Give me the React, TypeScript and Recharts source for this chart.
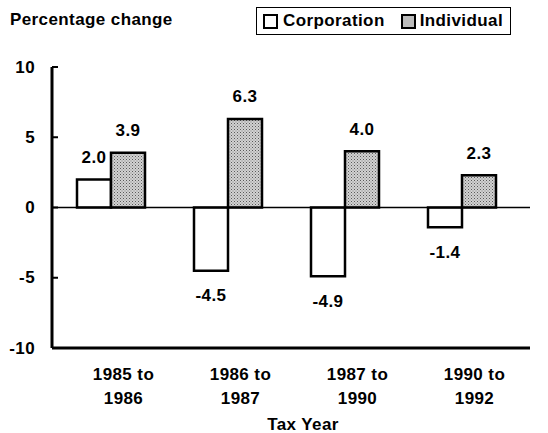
import React from "react";
import {
  BarChart,
  Bar,
  XAxis,
  YAxis,
  ReferenceLine,
  LabelList,
} from "recharts";

const categories = ["1985 to\n1986", "1986 to\n1987", "1987 to\n1990", "1990 to\n1992"];
const corporation = [2.0, -4.5, -4.9, -1.4];
const individual = [3.9, 6.3, 4.0, 2.3];
const yTicks = [-10, -5, 0, 5, 10];

const data = categories.map((category, i) => ({
  category,
  corporation: corporation[i],
  individual: individual[i],
}));

const font = "'Liberation Sans', Arial, Helvetica, sans-serif";
const textStyle = {
  fontFamily: font,
  fontWeight: 700,
  fontSize: 17,
  letterSpacing: 0.4,
  fill: "#000",
};

function ValueLabel(props: any) {
  const { x, y, width, height, value } = props;
  const v = Number(value);
  const top = Math.min(Number(y), Number(y) + Number(height));
  const bottom = Math.max(Number(y), Number(y) + Number(height));
  const cy = v >= 0 ? top - 22 : bottom + 25;
  return (
    <text
      x={Number(x) + Number(width) / 2}
      y={cy}
      textAnchor="middle"
      dominantBaseline="central"
      style={textStyle}
    >
      {v.toFixed(1)}
    </text>
  );
}

function YTick(props: any) {
  const { x, y, payload } = props;
  return (
    <g>
      <text x={x} y={y} textAnchor="end" dominantBaseline="central" style={textStyle}>
        {payload.value}
      </text>
      <line x1={x + 17} x2={x + 23} y1={y} y2={y} stroke="#000" strokeWidth={2} />
    </g>
  );
}

function XTick(props: any) {
  const { x, y, payload } = props;
  const lines = String(payload.value).split("\n");
  return (
    <g>
      {lines.map((l, i) => (
        <text
          key={i}
          x={x + 13}
          y={y + 26 + i * 24}
          textAnchor="middle"
          dominantBaseline="central"
          style={textStyle}
        >
          {l}
        </text>
      ))}
    </g>
  );
}

const htmlText: React.CSSProperties = {
  fontFamily: font,
  fontWeight: 700,
  fontSize: 17,
  letterSpacing: 0.4,
  color: "#000",
  lineHeight: "20px",
  position: "absolute",
  whiteSpace: "nowrap",
};

export default function App() {
  return (
    <div
      style={{
        position: "absolute",
        left: 0,
        top: 0,
        width: 548,
        height: 433,
        background: "#fff",
      }}
    >
      <BarChart
        width={548}
        height={433}
        data={data}
        margin={{ top: 67, right: 18, bottom: 55, left: 0 }}
        barGap={0}
        barSize={34}
      >
        <defs>
          <pattern id="stipple" width="3" height="3" patternUnits="userSpaceOnUse">
            <rect width="3" height="3" fill="#d2d2d2" />
            <rect x="0" y="0" width="1" height="1" fill="#5a5a5a" />
            <rect x="1.5" y="1.5" width="1" height="1" fill="#808080" />
          </pattern>
        </defs>
        <XAxis
          dataKey="category"
          height={30}
          axisLine={{ stroke: "#000", strokeWidth: 3 }}
          tickLine={false}
          tickSize={0}
          tickMargin={0}
          tick={<XTick />}
          padding={{ left: 0, right: 10 }}
          interval={0}
        />
        <YAxis
          width={52}
          domain={[-10, 10]}
          ticks={yTicks}
          axisLine={{ stroke: "#000", strokeWidth: 3 }}
          tickLine={false}
          tickSize={0}
          tickMargin={17}
          tick={<YTick />}
          interval={0}
        />
        <ReferenceLine y={0} stroke="#000" strokeWidth={1.5} />
        <Bar
          dataKey="corporation"
          fill="#fff"
          stroke="#000"
          strokeWidth={2.5}
          isAnimationActive={false}
        >
          <LabelList dataKey="corporation" content={<ValueLabel />} />
        </Bar>
        <Bar
          dataKey="individual"
          fill="url(#stipple)"
          stroke="#000"
          strokeWidth={2.5}
          isAnimationActive={false}
        >
          <LabelList dataKey="individual" content={<ValueLabel />} />
        </Bar>
      </BarChart>

      <div style={{ ...htmlText, left: 10, top: 10 }}>Percentage change</div>

      <div
        style={{
          position: "absolute",
          left: 256,
          top: 7,
          width: 253,
          height: 26,
          border: "1.5px solid #000",
          display: "flex",
          alignItems: "center",
        }}
      >
        <span
          style={{
            width: 11,
            height: 11,
            border: "2px solid #000",
            background: "#fff",
            marginLeft: 6,
            marginRight: 5,
          }}
        />
        <span style={{ ...htmlText, position: "static" }}>Corporation</span>
        <span
          style={{
            width: 11,
            height: 11,
            border: "2px solid #000",
            background: "#bdbdbd",
            marginLeft: 16,
            marginRight: 4,
          }}
        />
        <span style={{ ...htmlText, position: "static" }}>Individual</span>
      </div>

      <div style={{ ...htmlText, left: 253, width: 100, textAlign: "center", top: 415 }}>
        Tax Year
      </div>
    </div>
  );
}
